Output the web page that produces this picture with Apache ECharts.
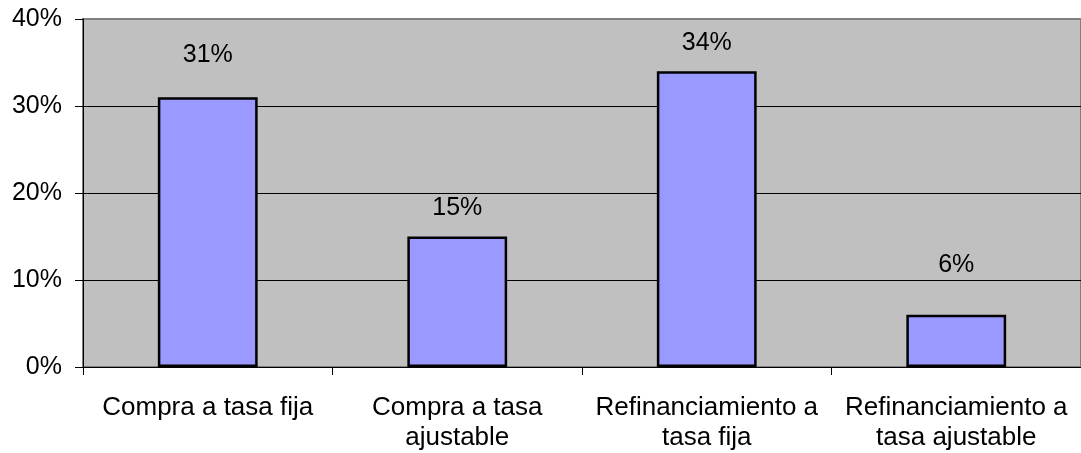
<!DOCTYPE html>
<html>
<head>
<meta charset="utf-8">
<script src="https://cdn.jsdelivr.net/npm/echarts@6/dist/echarts.min.js"></script>
<style>
  html,body{margin:0;padding:0;background:#fff;}
  #chart{width:1081px;height:453px;}
</style>
</head>
<body>
<div id="chart"></div>
<script>
  // categorias y valores (%)
  var categories = ['Compra a tasa fija', 'Compra a tasa\najustable', 'Refinanciamiento a\ntasa fija', 'Refinanciamiento a\ntasa ajustable'];
  var values = [31, 15, 34, 6];
  var yTicks = [0, 10, 20, 30, 40];
  // separacion de cada etiqueta sobre su barra (px), colocadas a mano en el original
  var labelGap = [30, 16, 16, 37];

  var fontFamily = 'Liberation Sans, Arial, sans-serif';
  var chart = echarts.init(document.getElementById('chart'));
  chart.setOption({
    animation: false,
    grid: {
      show: true,
      left: 83,
      top: 19,
      bottom: 86,
      width: 1004,
      backgroundColor: '#c0c0c0',
      borderColor: '#808080',
      borderWidth: 2
    },
    xAxis: {
      type: 'category',
      data: categories,
      axisLine: {lineStyle: {color: '#000', width: 1}},
      axisTick: {show: true, length: 8, lineStyle: {color: '#000'}},
      axisLabel: {
        color: '#000',
        fontFamily: fontFamily,
        fontSize: 26,
        lineHeight: 30,
        margin: 26,
        interval: 0
      }
    },
    yAxis: {
      type: 'value',
      min: yTicks[0],
      max: yTicks[yTicks.length - 1],
      interval: 10,
      axisLine: {show: true, lineStyle: {color: '#000', width: 1}},
      axisTick: {show: true, length: 8, lineStyle: {color: '#000'}},
      axisLabel: {
        color: '#000',
        fontFamily: fontFamily,
        fontSize: 25,
        margin: 21,
        formatter: '{value}%'
      },
      splitLine: {show: true, showMaxLine: false, lineStyle: {color: '#000', width: 1}}
    },
    series: [{
      type: 'bar',
      data: values.map(function (v, i) {
        return {value: v, label: {distance: labelGap[i]}};
      }),
      barWidth: '40%',
      itemStyle: {color: '#9999ff', borderColor: '#000', borderWidth: 2.5},
      label: {
        show: true,
        position: 'top',
        color: '#000',
        fontFamily: fontFamily,
        fontSize: 25,
        formatter: '{c}%'
      }
    }]
  });
</script>
</body>
</html>
